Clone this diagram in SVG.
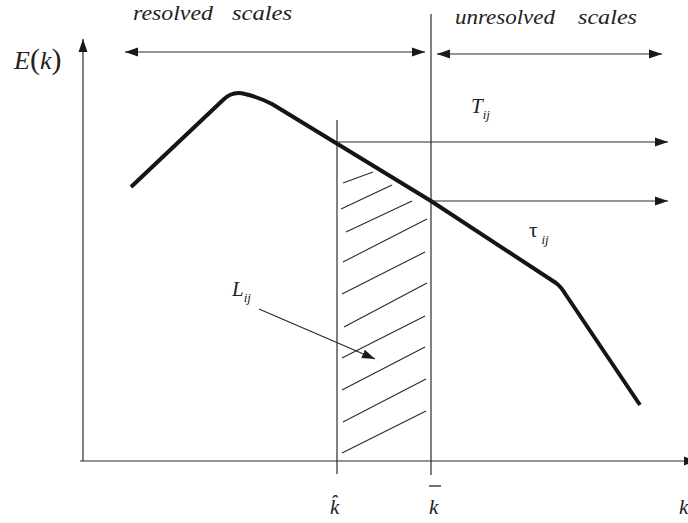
<svg xmlns="http://www.w3.org/2000/svg" width="688" height="523" viewBox="0 0 688 523">
<style>
.ln{stroke:#2a2a2a;stroke-width:1.2;fill:none}
.ar{stroke:#2a2a2a;stroke-width:1.2;fill:none;marker-end:url(#ah)}
.dbl{stroke:#2a2a2a;stroke-width:1.2;fill:none;marker-end:url(#ah);marker-start:url(#ah)}
.curve{stroke:#151515;stroke-width:4;fill:none;stroke-linejoin:round}
.hatch{stroke:#2a2a2a;stroke-width:1.1}
.t{font-family:"Liberation Serif","Times New Roman",serif;font-style:italic;fill:#222}
.n{font-family:"Liberation Serif","Times New Roman",serif;fill:#222}
</style>
<defs>
<marker id="ah" markerUnits="userSpaceOnUse" markerWidth="14" markerHeight="10" refX="13" refY="5" orient="auto-start-reverse">
<path d="M0,0.5 L13,5 L0,9.5 z" fill="#1a1a1a"/>
</marker>
</defs>
<rect width="688" height="523" fill="#fff"/>

<g id="axes">
<line class="ar" x1="83" y1="461" x2="83" y2="39"/>
<line class="ar" x1="80" y1="461" x2="697" y2="461"/>
</g>

<g id="cutoff-lines">
<line class="ln" x1="337" y1="120" x2="337" y2="474"/>
<line class="ln" x1="431" y1="14" x2="431" y2="475"/>
</g>

<g id="hatching">
<line class="hatch" x1="343" y1="183" x2="373" y2="172"/>
<line class="hatch" x1="341" y1="209" x2="392" y2="185"/>
<line class="hatch" x1="346" y1="232" x2="412" y2="201"/>
<line class="hatch" x1="343" y1="262" x2="427" y2="219"/>
<line class="hatch" x1="342" y1="294" x2="425" y2="252"/>
<line class="hatch" x1="344" y1="327" x2="427" y2="283"/>
<line class="hatch" x1="342" y1="358" x2="425" y2="316"/>
<line class="hatch" x1="342" y1="390" x2="425" y2="347"/>
<line class="hatch" x1="343" y1="422" x2="426" y2="379"/>
<line class="hatch" x1="342" y1="453" x2="426" y2="411"/>
</g>

<g id="spectrum">
<path class="curve" d="M131,187 L223,100 C230,93 238,92 245,94 C254,96 262,99 272,104 L431,201 L556,283 C560,286 563,290 566,295 L640,405"/>
</g>

<g id="connectors">
<line class="dbl" x1="125" y1="52" x2="425" y2="52"/>
<line class="dbl" x1="437" y1="54" x2="662" y2="54"/>
<line class="ar" x1="337" y1="142" x2="668" y2="142"/>
<line class="ar" x1="431" y1="201" x2="668" y2="201"/>
<line class="ar" x1="259" y1="309" x2="375" y2="359"/>
</g>

<g id="labels">
<text class="t" x="133" y="20" font-size="22" textLength="80" lengthAdjust="spacingAndGlyphs">resolved</text>
<text class="t" x="232" y="20" font-size="22" textLength="60" lengthAdjust="spacingAndGlyphs">scales</text>
<text class="t" x="455" y="24" font-size="22" textLength="100" lengthAdjust="spacingAndGlyphs">unresolved</text>
<text class="t" x="578" y="24" font-size="22" textLength="59" lengthAdjust="spacingAndGlyphs">scales</text>
<text class="t" x="14" y="69" font-size="26">E<tspan class="n" font-style="normal" font-size="30">(</tspan>k<tspan class="n" font-style="normal" font-size="30">)</tspan></text>
<text class="t" x="471" y="113" font-size="21">T<tspan font-size="13" dy="6">ij</tspan></text>
<text class="n" x="529" y="237" font-size="21">τ<tspan class="t" font-size="13" dx="4" dy="7">ij</tspan></text>
<text class="t" x="232" y="296" font-size="21">L<tspan font-size="13" dy="6">ij</tspan></text>
<text class="t" x="330" y="514" font-size="21">k̂</text>
<line x1="429" y1="486" x2="441" y2="486" stroke="#222" stroke-width="1.3"/>
<text class="t" x="429" y="514" font-size="21">k</text>
<text class="t" x="679" y="514" font-size="21">k</text>
</g>
</svg>
